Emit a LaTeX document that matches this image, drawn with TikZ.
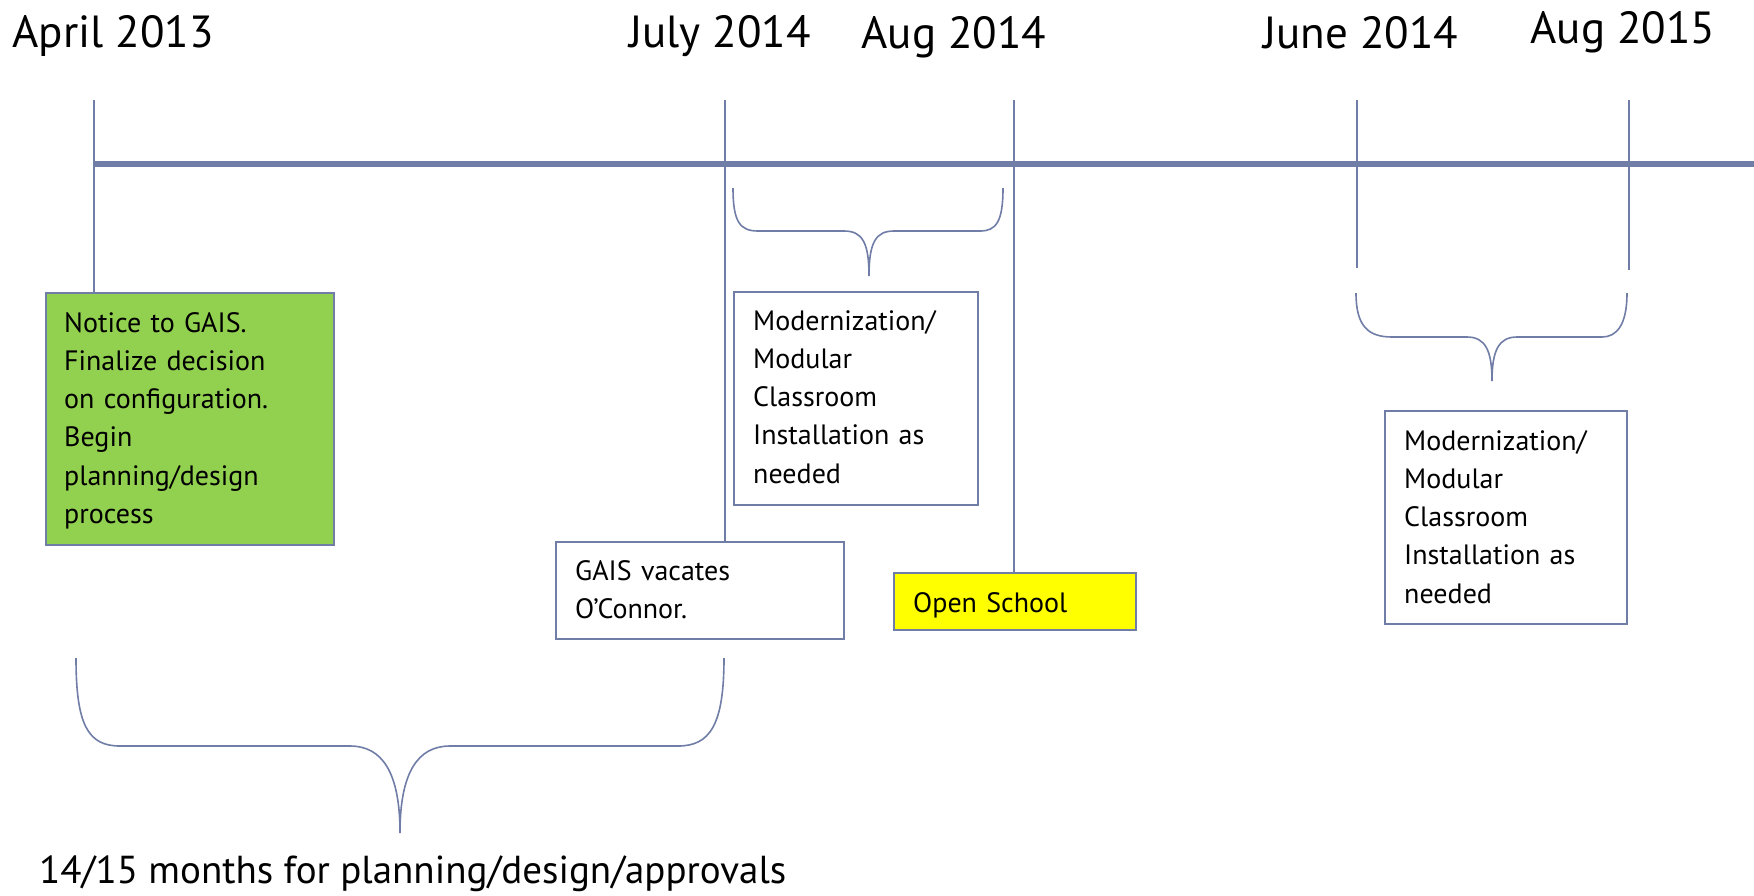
\documentclass[tikz,border=0pt]{standalone}
\usepackage{fontspec}
\setmainfont{PT Sans}
\definecolor{slate}{RGB}{112,125,166}
\definecolor{grn}{RGB}{146,208,80}
\definecolor{yel}{RGB}{255,255,0}
\begin{document}
\begin{tikzpicture}[x=1pt,y=-1pt,
 datelabel/.style={anchor=base,inner sep=0pt,font=\fontsize{45}{54}\selectfont},
 boxtext/.style={anchor=base west,inner sep=0pt,align=left,text width=240pt,font=\fontsize{28}{38.3}\selectfont},
 tick/.style={draw=slate,line width=2pt},
 axisline/.style={draw=slate,line width=5.5pt},
 evbox/.style={draw=slate,line width=1.8pt,anchor=north west,inner sep=0pt},
 bracestyle/.style={draw=slate,line width=1.6pt}]
\useasboundingbox (0,0) rectangle (1754,895);

% date labels
\node[datelabel] (lapr) at (113,47) {April 2013};
\node[datelabel] (ljul) at (720,47) {July 2014};
\node[datelabel] (laug) at (954,48) {Aug 2014};
\node[datelabel] (ljun) at (1361,48) {June 2014};
\node[datelabel] (laug15) at (1623,43) {Aug 2015};

% boxes
\node[evbox,fill=grn,minimum width=288pt,minimum height=252pt] (notice) at (45,292) {};
\node[evbox,fill=white,minimum width=244pt,minimum height=213pt] (mod1) at (733,291) {};
\node[evbox,fill=white,minimum width=288pt,minimum height=97pt] (gais) at (555,541) {};
\node[evbox,fill=yel,minimum width=242pt,minimum height=57pt] (open) at (893,572) {};
\node[evbox,fill=white,minimum width=242pt,minimum height=213pt] (mod2) at (1384,410) {};

% box texts
\node[boxtext] (noticetxt) at (64,332) {Notice to GAIS.\\Finalize decision\\on configuration.\\Begin\\planning/design\\process};
\node[boxtext] (mod1txt) at (753,330) {Modernization/\\Modular\\Classroom\\Installation as\\needed};
\node[boxtext] (gaistxt) at (575,580) {GAIS vacates\\O’Connor.};
\node[boxtext] (opentxt) at (913,612) {Open School};
\node[boxtext] (mod2txt) at (1404,450) {Modernization/\\Modular\\Classroom\\Installation as\\needed};

% ticks
\coordinate (tapr) at (94,100);
\coordinate (tjul) at (725,100);
\coordinate (taug) at (1014,100);
\coordinate (tjun) at (1357,100);
\coordinate (taug15) at (1629,100);
\coordinate (bjun) at (1357,268);
\coordinate (baug15) at (1629,270);
\coordinate (axl) at (94,164);
\coordinate (axr) at (1754,164);

\draw[tick] (tapr) -- (tapr |- notice.north);
\draw[tick] (tjul) -- (tjul |- gais.north);
\draw[tick] (taug) -- (taug |- open.north);
\draw[tick] (tjun) -- (bjun);
\draw[tick] (taug15) -- (baug15);
\draw[axisline] (axl) -- (axr);

% braces
\draw[bracestyle] (733,188) .. controls (733,222) and (740,231) .. (758,231) -- (844,231)
  .. controls (862,231) and (869,242) .. (869,276)
  .. controls (869,242) and (876,231) .. (894,231) -- (980,231)
  .. controls (996,231) and (1003,222) .. (1003,188);
\draw[bracestyle] (1356,293) .. controls (1356,326) and (1368,337) .. (1392,337) -- (1467,337)
  .. controls (1485,337) and (1492,350) .. (1492,381)
  .. controls (1492,350) and (1499,337) .. (1517,337) -- (1602,337)
  .. controls (1616,337) and (1627,326) .. (1627,293);
\draw[bracestyle] (76,658) .. controls (76,725) and (88,746) .. (120,746) -- (350,746)
  .. controls (382,746) and (400,772) .. (400,833)
  .. controls (400,772) and (418,746) .. (450,746) -- (678,746)
  .. controls (710,746) and (724,725) .. (724,658);

% bottom label
\node[anchor=base west,inner sep=0pt,font=\fontsize{39}{47}\selectfont] (span) at (39,883) {14/15 months for planning/design/approvals};
\end{tikzpicture}
\end{document}
